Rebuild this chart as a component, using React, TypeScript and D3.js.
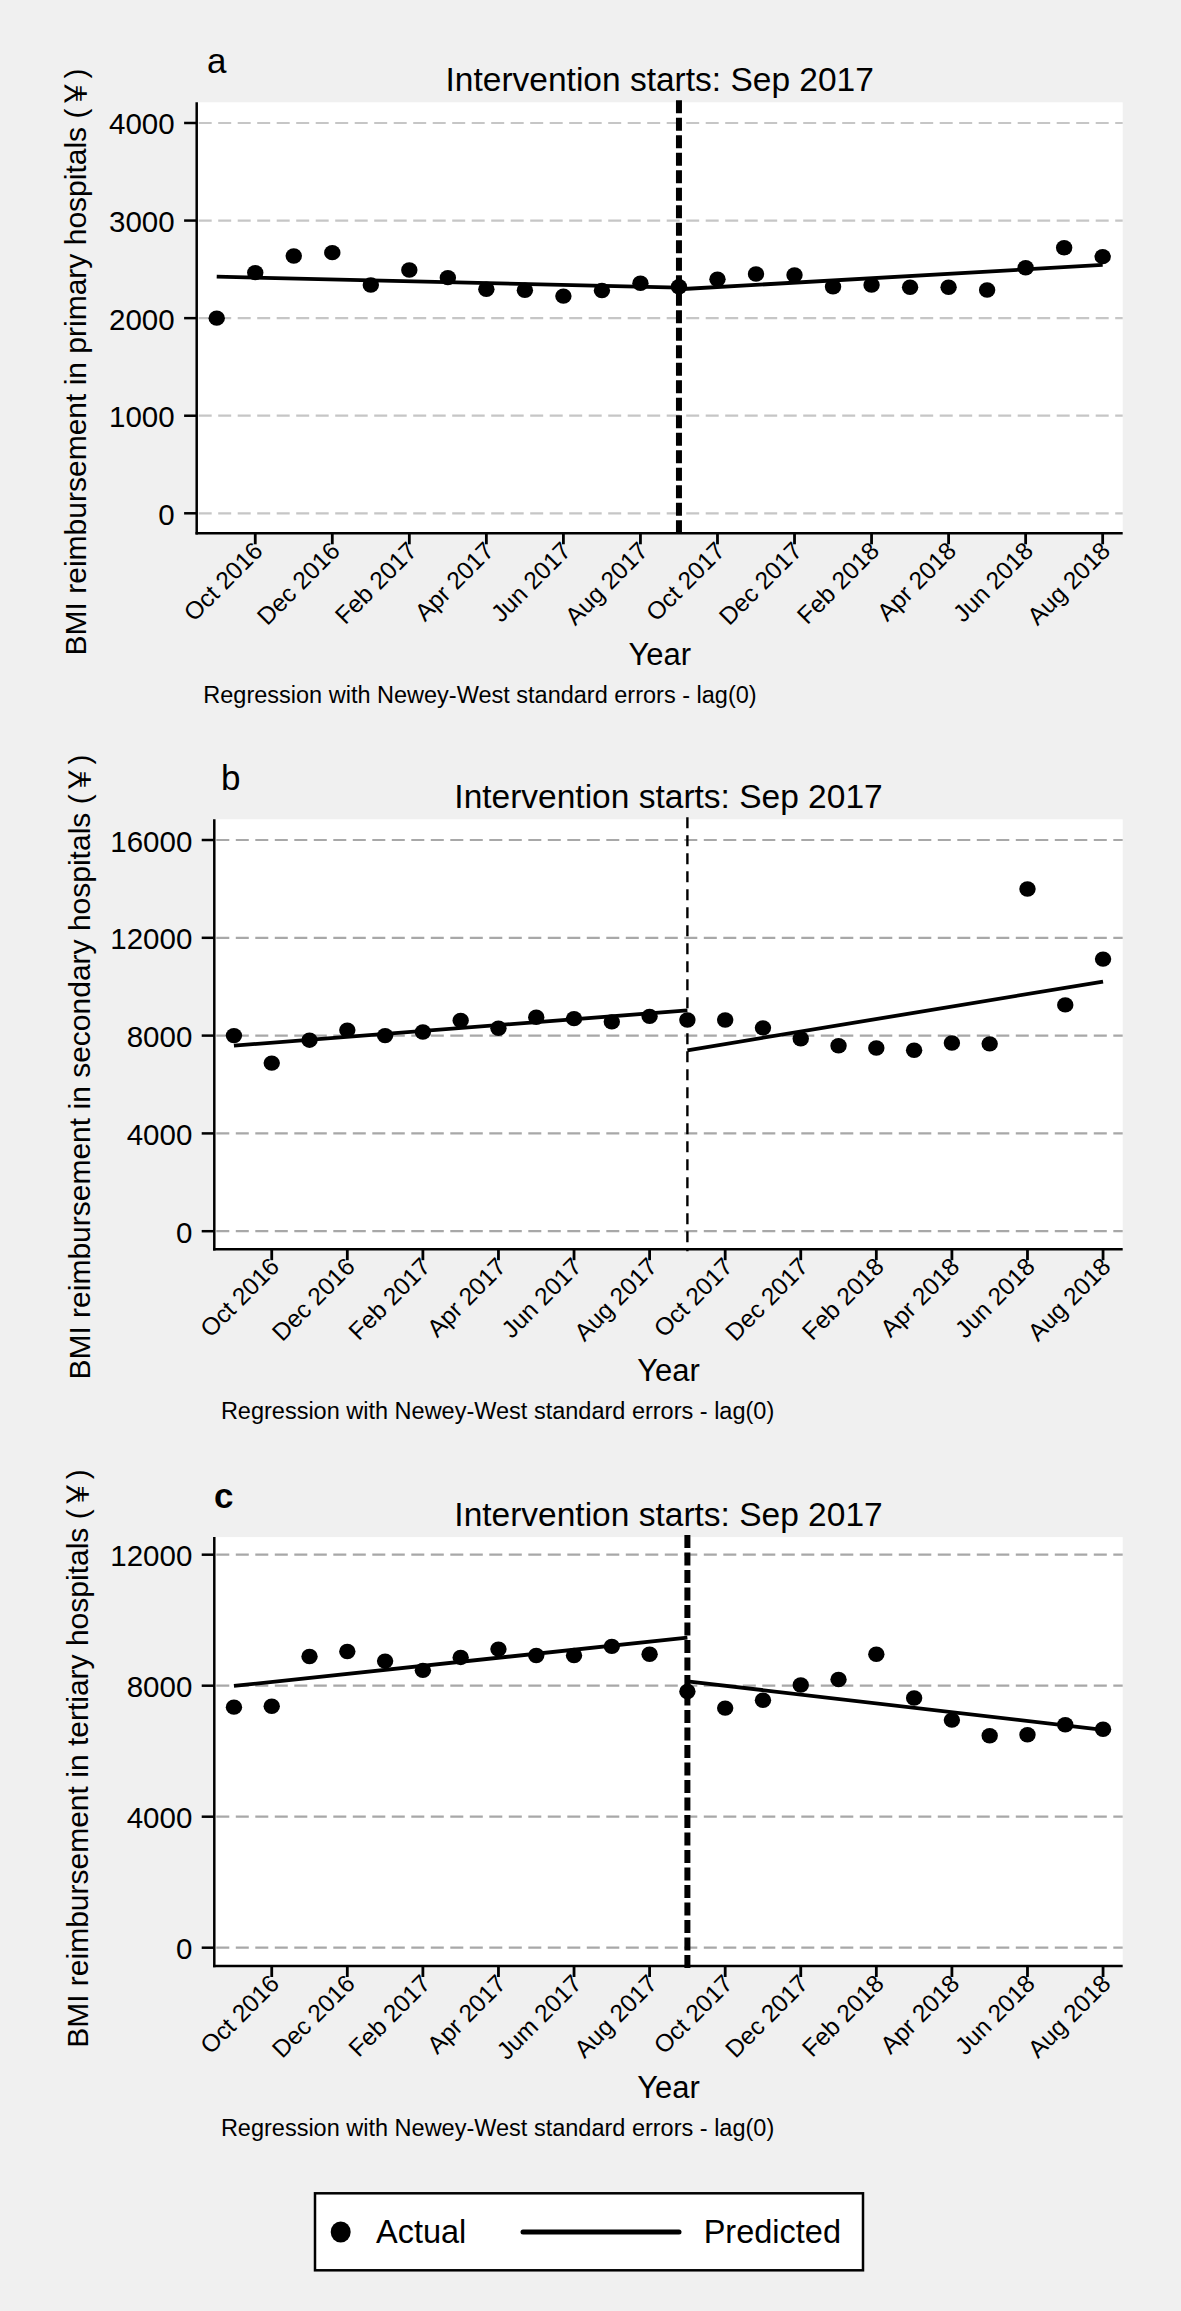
import React from "react";
import * as d3 from "d3";

// ---------- data ----------
const months = [
  "Sep 2016", "Oct 2016", "Nov 2016", "Dec 2016", "Jan 2017", "Feb 2017",
  "Mar 2017", "Apr 2017", "May 2017", "Jun 2017", "Jul 2017", "Aug 2017",
  "Sep 2017", "Oct 2017", "Nov 2017", "Dec 2017", "Jan 2018", "Feb 2018",
  "Mar 2018", "Apr 2018", "May 2018", "Jun 2018", "Jul 2018", "Aug 2018",
];
const interventionMonth = "Sep 2017";
const tickMonths = [
  "Oct 2016", "Dec 2016", "Feb 2017", "Apr 2017", "Jun 2017", "Aug 2017",
  "Oct 2017", "Dec 2017", "Feb 2018", "Apr 2018", "Jun 2018", "Aug 2018",
];
const tickLabelsAB = [
  "Oct 2016", "Dec 2016", "Feb 2017", "Apr 2017", "Jun 2017", "Aug 2017",
  "Oct 2017", "Dec 2017", "Feb 2018", "Apr 2018", "Jun 2018", "Aug 2018",
];
const tickLabelsC = [
  "Oct 2016", "Dec 2016", "Feb 2017", "Apr 2017", "Jum 2017", "Aug 2017",
  "Oct 2017", "Dec 2017", "Feb 2018", "Apr 2018", "Jun 2018", "Aug 2018",
];
const preMonths = ["Sep 2016", "Sep 2017"];
const postMonths = ["Sep 2017", "Aug 2018"];

const primaryActual = [
  2000, 2466, 2637, 2671, 2340, 2493, 2415, 2296, 2286, 2226, 2283, 2357,
  2322, 2398, 2452, 2442, 2322, 2340, 2316, 2316, 2288, 2517, 2722, 2630,
];
const primaryPredPre = [2425, 2312];
const primaryPredPost = [2296, 2545];

const secondaryActual = [
  8000, 6876, 7813, 8225, 8000, 8150, 8618, 8300, 8749, 8693, 8562, 8787,
  8637, 8637, 8318, 7869, 7588, 7494, 7400, 7700, 7663, 13995, 9255, 11129,
];
const secondaryPredPre = [7588, 9030];
const secondaryPredPost = [7400, 10211];

const tertiaryActual = [
  7344, 7372, 8891, 9046, 8751, 8469, 8863, 9117, 8920, 8920, 9201, 8962,
  7822, 7316, 7555, 8019, 8188, 8962, 7625, 6950, 6472, 6500, 6809, 6669,
];
const tertiaryPredPre = [7991, 9468];
const tertiaryPredPost = [8132, 6654];

const primaryTicks = [0, 1000, 2000, 3000, 4000];
const secondaryTicks = [0, 4000, 8000, 12000, 16000];
const tertiaryTicks = [0, 4000, 8000, 12000];

const titleText = "Intervention starts: Sep 2017";
const noteText = "Regression with Newey-West standard errors - lag(0)";
const xTitle = "Year";

// ---------- layout ----------
const W = 1181;
const H = 2311;
const RIGHT = 1122.7;
const FONT = "'Liberation Sans', Arial, Helvetica, 'Noto Sans CJK SC', sans-serif";

type PanelProps = {
  letter: string;
  letterBold: boolean;
  letterX: number;
  yTitle: string;
  yTitleX: number;
  yTitleCY: number;
  left: number;
  top: number;
  bottom: number;
  yDomain: [number, number];
  yTicks: number[];
  tickLabels: string[];
  actual: number[];
  predPre: number[];
  predPost: number[];
  gridColor: string;
  thickVLine: boolean;
};

function Panel(p: PanelProps) {
  const x = d3
    .scaleLinear()
    .domain([-0.52, 23.52])
    .range([p.left, RIGHT]);
  const y = d3.scaleLinear().domain(p.yDomain).range([p.bottom, p.top]);
  const xm = (m: string) => x(months.indexOf(m));
  const line = d3
    .line<[string, number]>()
    .x((d) => xm(d[0]))
    .y((d) => y(d[1]));
  const preData: [string, number][] = preMonths.map((m, i) => [m, p.predPre[i]]);
  const postData: [string, number][] = postMonths.map((m, i) => [m, p.predPost[i]]);
  const cx = (p.left + RIGHT) / 2;
  const vx = xm(interventionMonth);
  const tickLen = 11;

  return (
    <g>
      <rect x={p.left} y={p.top} width={RIGHT - p.left} height={p.bottom - p.top} fill="#ffffff" />
      {/* gridlines */}
      {p.yTicks.map((t) => (
        <line
          key={"g" + t}
          x1={p.left + 2}
          x2={RIGHT}
          y1={y(t)}
          y2={y(t)}
          stroke={p.gridColor}
          strokeWidth={2.2}
          strokeDasharray="13 6.5"
        />
      ))}
      {/* intervention line */}
      <line
        x1={vx}
        x2={vx}
        y1={p.top - 2}
        y2={p.bottom + 2}
        stroke="#000"
        strokeWidth={p.thickVLine ? 6 : 2.4}
        strokeDasharray={p.thickVLine ? "13 4.5" : "11 7"}
      />
      {/* predicted */}
      <path d={line(preData) || ""} fill="none" stroke="#000" strokeWidth={3.8} />
      <path d={line(postData) || ""} fill="none" stroke="#000" strokeWidth={3.8} />
      {/* actual */}
      {p.actual.map((v, i) => (
        <ellipse key={"p" + i} cx={x(i)} cy={y(v)} rx={8.2} ry={7.7} fill="#000" />
      ))}
      {/* axes */}
      <line x1={p.left} x2={p.left} y1={p.top} y2={p.bottom + 1.2} stroke="#000" strokeWidth={2.5} />
      <line x1={p.left - 1.2} x2={RIGHT} y1={p.bottom} y2={p.bottom} stroke="#000" strokeWidth={2.5} />
      {p.yTicks.map((t) => (
        <g key={"yt" + t}>
          <line x1={p.left - 12.6} x2={p.left} y1={y(t)} y2={y(t)} stroke="#000" strokeWidth={2.5} />
          <text
            x={p.left - 22}
            y={y(t) + 11.5}
            textAnchor="end"
            fontSize={29.5}
            fontFamily={FONT}
            fill="#000"
          >
            {t}
          </text>
        </g>
      ))}
      {tickMonths.map((m, i) => {
        const tx = xm(m);
        return (
          <g key={"xt" + m}>
            <line x1={tx} x2={tx} y1={p.bottom} y2={p.bottom + tickLen} stroke="#000" strokeWidth={2.8} />
            <text
              transform={`translate(${tx + 3},${p.bottom + tickLen + 2}) rotate(-45)`}
              textAnchor="end"
              dominantBaseline="central"
              fontSize={24.5}
              fontFamily={FONT}
              fill="#000"
            >
              {p.tickLabels[i]}
            </text>
          </g>
        );
      })}
      {/* titles */}
      <text x={cx} y={p.top - 11} textAnchor="middle" fontSize={33.5} fontFamily={FONT} fill="#000">
        {titleText}
      </text>
      <text
        x={p.letterX}
        y={p.top - 29.5}
        fontSize={35}
        fontWeight={p.letterBold ? "bold" : "normal"}
        fontFamily={FONT}
        fill="#000"
      >
        {p.letter}
      </text>
      <text
        transform={`translate(${p.yTitleX},${p.yTitleCY}) rotate(-90)`}
        textAnchor="middle"
        fontSize={30}
        fontFamily={FONT}
        fill="#000"
      >
        {p.yTitle}
      </text>
      <text x={cx} y={p.bottom + 131.5} textAnchor="middle" fontSize={31} fontFamily={FONT} fill="#000">
        {xTitle}
      </text>
      <text x={p.left + 6.6} y={p.bottom + 170} fontSize={23.5} fontFamily={FONT} fill="#000">
        {noteText}
      </text>
    </g>
  );
}

export default function App() {
  return (
    <svg
      width={W}
      height={H}
      viewBox={`0 0 ${W} ${H}`}
      style={{ position: "absolute", left: 0, top: 0, display: "block" }}
    >
      <rect x={0} y={0} width={W} height={H} fill="#f0f0f0" />
      <Panel
        letter="a"
        letterBold={false}
        letterX={207}
        yTitle="BMI reimbursement in primary hospitals (￥)"
        yTitleX={86}
        yTitleCY={362}
        left={196.7}
        top={102.3}
        bottom={533.3}
        yDomain={[-205, 4212]}
        yTicks={primaryTicks}
        tickLabels={tickLabelsAB}
        actual={primaryActual}
        predPre={primaryPredPre}
        predPost={primaryPredPost}
        gridColor="#c6c6c6"
        thickVLine={true}
      />
      <Panel
        letter="b"
        letterBold={false}
        letterX={221}
        yTitle="BMI reimbursement in secondary hospitals (￥)"
        yTitleX={90}
        yTitleCY={1067}
        left={214.3}
        top={819.3}
        bottom={1249.2}
        yDomain={[-736, 16847]}
        yTicks={secondaryTicks}
        tickLabels={tickLabelsAB}
        actual={secondaryActual}
        predPre={secondaryPredPre}
        predPost={secondaryPredPost}
        gridColor="#a8a8a8"
        thickVLine={false}
      />
      <Panel
        letter="c"
        letterBold={true}
        letterX={214}
        yTitle="BMI reimbursement in tertiary hospitals (￥)"
        yTitleX={88}
        yTitleCY={1758.6}
        left={214.3}
        top={1537.1}
        bottom={1966}
        yDomain={[-559, 12537]}
        yTicks={tertiaryTicks}
        tickLabels={tickLabelsC}
        actual={tertiaryActual}
        predPre={tertiaryPredPre}
        predPost={tertiaryPredPost}
        gridColor="#a8a8a8"
        thickVLine={true}
      />
      {/* legend */}
      <g>
        <rect x={315} y={2193.3} width={548} height={77} fill="#ffffff" stroke="#000" strokeWidth={2.5} />
        <ellipse cx={340.7} cy={2232} rx={10} ry={10.5} fill="#000" />
        <text x={376} y={2242.7} fontSize={32.5} fontFamily={FONT} fill="#000">
          Actual
        </text>
        <line x1={523} x2={679} y1={2232} y2={2232} stroke="#000" strokeWidth={5} strokeLinecap="round" />
        <text x={703.7} y={2242.7} fontSize={32.5} fontFamily={FONT} fill="#000">
          Predicted
        </text>
      </g>
    </svg>
  );
}
